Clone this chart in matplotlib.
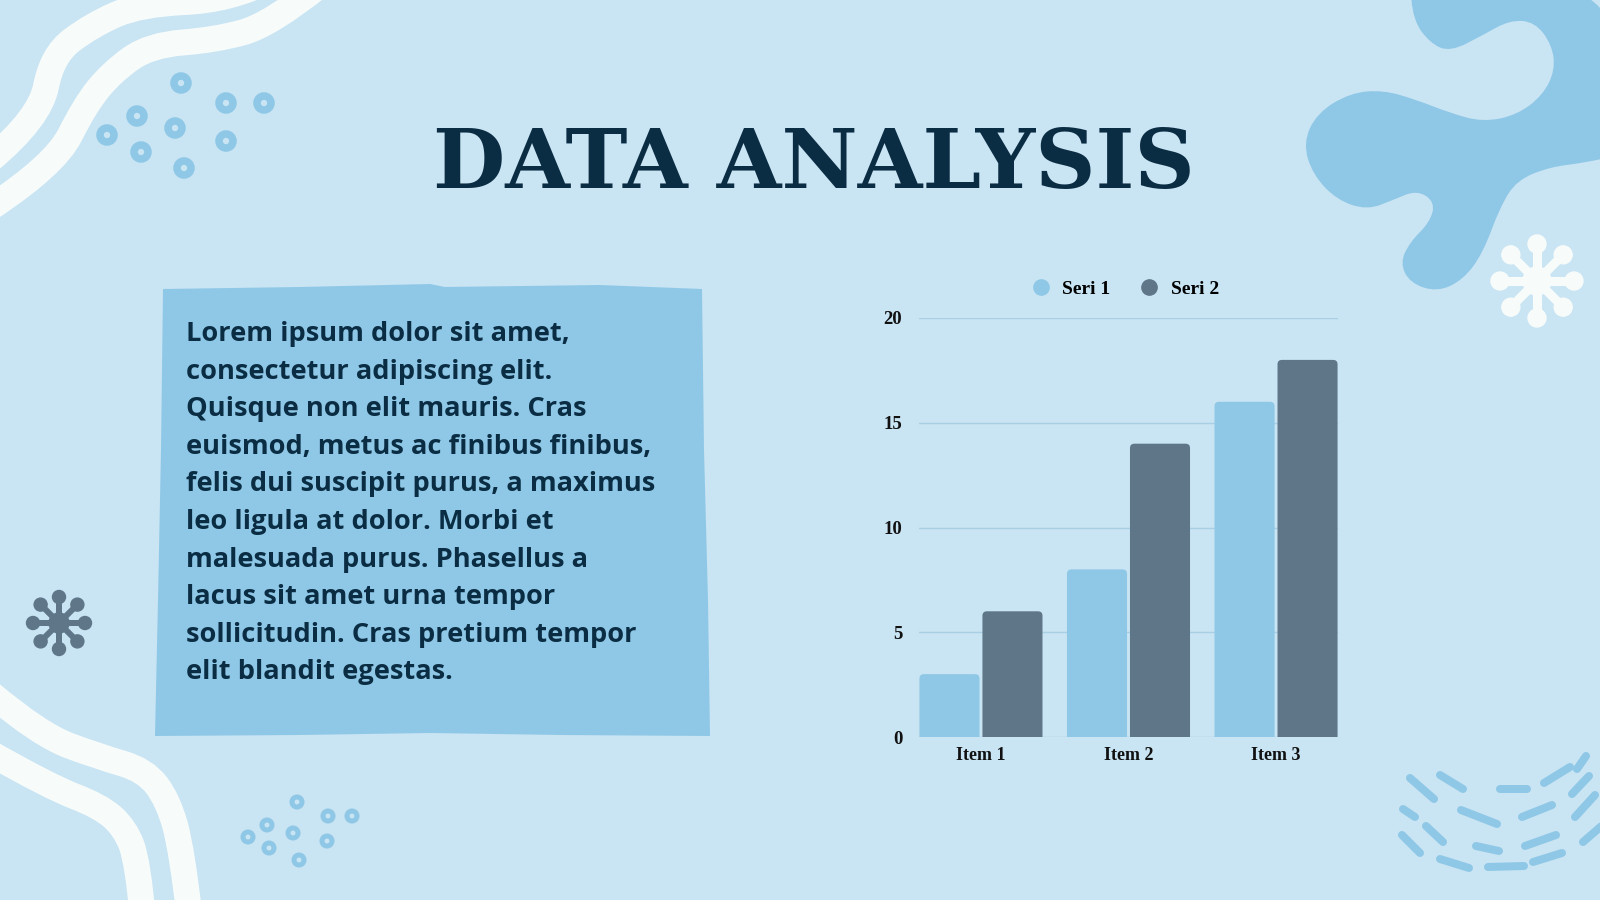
import numpy as np
import matplotlib
matplotlib.use("Agg")
import matplotlib.pyplot as plt
from matplotlib.path import Path
from matplotlib.patches import PathPatch, Circle, Polygon, FancyBboxPatch
from matplotlib.lines import Line2D

# chart data
categories = ["Item 1", "Item 2", "Item 3"]
seri_1 = [3, 8, 16]
seri_2 = [6, 14, 18]
series_names = ["Seri 1", "Seri 2"]
y_ticks = [0, 5, 10, 15, 20]

title = "DATA ANALYSIS"
body_lines = [
    "Lorem ipsum dolor sit amet,",
    "consectetur adipiscing elit.",
    "Quisque non elit mauris. Cras",
    "euismod, metus ac finibus finibus,",
    "felis dui suscipit purus, a maximus",
    "leo ligula at dolor. Morbi et",
    "malesuada purus. Phasellus a",
    "lacus sit amet urna tempor",
    "sollicitudin. Cras pretium tempor",
    "elit blandit egestas.",
]

BG = "#c9e4f3"
LIGHT = "#8fc8e6"
SLATE = "#5f7689"
NAVY = "#0b2d44"
WHITE = "#f7fcfa"
GRID = "#a9cfe4"


def px(w):
    # pixel width -> points at dpi 100
    return w * 0.72


def smooth_closed(pts):
    pts = np.asarray(pts, float)
    mids = (pts + np.roll(pts, -1, axis=0)) / 2
    verts = [mids[-1]]
    codes = [Path.MOVETO]
    for i in range(len(pts)):
        verts += [pts[i], mids[i]]
        codes += [Path.CURVE3, Path.CURVE3]
    return Path(verts, codes)


def smooth_open(pts):
    pts = np.asarray(pts, float)
    n = len(pts)
    if n == 2:
        return Path([pts[0], pts[1]], [Path.MOVETO, Path.LINETO])
    verts = [pts[0]]
    codes = [Path.MOVETO]
    for i in range(1, n - 1):
        end = pts[-1] if i == n - 2 else (pts[i] + pts[i + 1]) / 2
        verts += [pts[i], end]
        codes += [Path.CURVE3, Path.CURVE3]
    return Path(verts, codes)


def flower(ax, cx, cy, r, ball, arm, hub, color):
    for k in range(8):
        a = np.pi / 2 + k * np.pi / 4
        tx, ty = cx + r * np.cos(a), cy - r * np.sin(a)
        ax.plot([cx, tx], [cy, ty], color=color, lw=px(arm),
                solid_capstyle="round", zorder=3)
        ax.add_patch(Circle((tx, ty), ball, color=color, zorder=3))
    ax.add_patch(Circle((cx, cy), hub, color=color, zorder=3))


fig = plt.figure(figsize=(16, 9), dpi=100)
fig.patch.set_facecolor(BG)

bg = fig.add_axes([0, 0, 1, 1])
bg.set_xlim(0, 1600)
bg.set_ylim(900, 0)
bg.axis("off")

# white wavy bands, top left
for pts in [
    [(-10, 160), (40, 118), (52, 55), (92, 25), (140, 4), (230, 0), (270, -20)],
    [(-10, 208), (55, 165), (85, 105), (112, 72), (150, 45), (215, 40), (270, 25), (320, -15)],
]:
    bg.add_patch(PathPatch(smooth_open(pts), fill=False, ec=WHITE, lw=px(26),
                           capstyle="butt", zorder=1))

# white wavy bands, bottom left
for pts in [
    [(-10, 693), (40, 735), (100, 757), (145, 770), (168, 800), (182, 850), (190, 920)],
    [(-10, 753), (50, 787), (100, 806), (125, 828), (138, 862), (143, 920)],
]:
    bg.add_patch(PathPatch(smooth_open(pts), fill=False, ec=WHITE, lw=px(26),
                           capstyle="butt", zorder=1))

# blue blob, top right
blob = [(1410, -20), (1413, 20), (1430, 43), (1450, 52), (1483, 35), (1510, 20),
        (1535, 22), (1552, 45), (1555, 70), (1543, 95), (1517, 115), (1483, 122),
        (1450, 113), (1417, 100), (1383, 90), (1350, 93), (1317, 113), (1303, 143),
        (1313, 175), (1337, 200), (1367, 210), (1393, 200), (1417, 190), (1435, 202),
        (1430, 222), (1410, 242), (1400, 263), (1410, 283), (1437, 292), (1463, 280),
        (1483, 253), (1500, 207), (1517, 180), (1550, 167), (1583, 163), (1620, 155),
        (1620, -20)]
bg.add_patch(PathPatch(smooth_closed(blob), fc=LIGHT, ec="none", zorder=1))

# ring dots
rings_top = [(181, 83), (137, 116), (175, 128), (107, 135), (226, 103),
             (264, 103), (226, 141), (141, 152), (184, 168)]
rings_bottom = [(297, 802), (267, 825), (293, 833), (248, 837), (328, 816),
                (352, 816), (327, 841), (269, 848), (299, 860)]
for (x, y) in rings_top:
    bg.add_patch(Circle((x, y), 7, fc="none", ec=LIGHT, lw=px(7.5), zorder=2))
for (x, y) in rings_bottom:
    bg.add_patch(Circle((x, y), 5, fc="none", ec=LIGHT, lw=px(5), zorder=2))

# dashes, bottom right
dashes = [((1410, 778), (1434, 799)), ((1440, 775), (1463, 789)),
          ((1500, 789), (1527, 789)), ((1544, 783), (1570, 767)),
          ((1577, 769), (1586, 756)), ((1403, 809), (1415, 817)),
          ((1461, 810), (1497, 824)), ((1522, 817), (1552, 805)),
          ((1572, 794), (1589, 776)), ((1575, 817), (1595, 795)),
          ((1426, 826), (1443, 842)), ((1402, 835), (1420, 853)),
          ((1476, 846), (1499, 851)), ((1525, 846), (1556, 835)),
          ((1583, 842), (1605, 823)), ((1440, 859), (1469, 868)),
          ((1488, 867), (1524, 866)), ((1533, 862), (1562, 853))]
for (a, b) in dashes:
    bg.plot([a[0], b[0]], [a[1], b[1]], color=LIGHT, lw=px(8),
            solid_capstyle="round", zorder=2)

flower(bg, 1537, 281, 37, 9, 9, 14, WHITE)
flower(bg, 59, 623, 26, 6.5, 6, 10, SLATE)

# text panel
panel = [(163, 289), (300, 287), (430, 284), (445, 287), (600, 285), (702, 289),
         (704, 450), (708, 600), (710, 736), (560, 735), (430, 733), (300, 735),
         (155, 736), (158, 600), (161, 450)]
bg.add_patch(Polygon(panel, closed=True, fc=LIGHT, ec="none", zorder=2))

for i, line in enumerate(body_lines):
    bg.text(186, 341 + i * 37.6, line, fontsize=19.6, fontweight="bold",
            family="Open Sans", color=NAVY, va="baseline", ha="left", zorder=4)

bg.text(814, 188, title, fontsize=60, fontweight="bold", family="DejaVu Serif",
        color=NAVY, ha="center", va="baseline", zorder=4)

# bar chart
ax = fig.add_axes([919 / 1600, 1 - 737 / 900, 419 / 1600, 419 / 900])
ax.set_facecolor("none")
ax.set_xlim(-0.42, 2.42)
ax.set_ylim(0, 20)
x = np.arange(len(categories))
w = 0.407
off = 0.2135
bars_1 = ax.bar(x - off, seri_1, width=w, color=LIGHT, zorder=3)
bars_2 = ax.bar(x + off, seri_2, width=w, color=SLATE, zorder=3)

# swap the square bars for ones with rounded tops
aspect = (20 / 419) / (2.84 / 419)
for rect in list(bars_1) + list(bars_2):
    rx, rw, rh = rect.get_x(), rect.get_width(), rect.get_height()
    rect.set_visible(False)
    ax.add_patch(FancyBboxPatch((rx, -1), rw, rh + 1,
                                boxstyle="round,pad=0,rounding_size=0.03",
                                mutation_aspect=aspect, fc=rect.get_facecolor(),
                                ec="none", zorder=3))

ax.set_yticks(y_ticks)
ax.set_xticks(x)
ax.set_xticklabels(categories)
ax.grid(axis="y", color=GRID, lw=1, zorder=0)
for s in ax.spines.values():
    s.set_visible(False)
ax.tick_params(length=0)
ax.tick_params(axis="y", pad=12)
ax.tick_params(axis="x", pad=7)
for lab in ax.get_xticklabels() + ax.get_yticklabels():
    lab.set_family("Liberation Serif")
    lab.set_fontweight("bold")
    lab.set_color("#111111")
for lab in ax.get_xticklabels():
    lab.set_fontsize(13)
for lab in ax.get_yticklabels():
    lab.set_fontsize(13.5)

handles = [Line2D([], [], ls="none", marker="o", ms=11, color=c)
           for c in (LIGHT, SLATE)]
fig.legend(handles, series_names, loc="center",
           bbox_to_anchor=(1125 / 1600, 1 - 289 / 900), ncol=2, frameon=False,
           handletextpad=0.6, columnspacing=1.5, handlelength=1.0,
           prop={"family": "Liberation Serif", "weight": "bold", "size": 14})

fig.savefig("out.png", dpi=100, facecolor=BG)
